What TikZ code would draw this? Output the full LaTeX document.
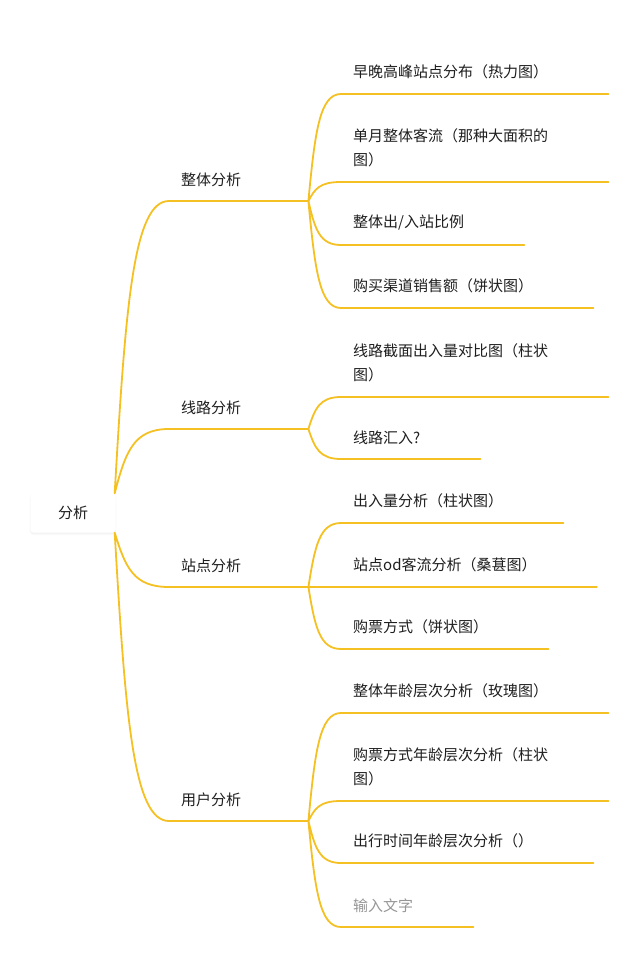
\documentclass[tikz,border=0pt]{standalone}
\usepackage{fontspec}
\setmainfont{Noto Sans CJK SC}
\usepackage{tikz}
\usetikzlibrary{calc}
\usetikzlibrary{shadows}
\definecolor{gold}{RGB}{244,192,34}
\definecolor{ink}{RGB}{30,30,30}
\definecolor{hint}{RGB}{150,150,150}

\begin{document}
\begin{tikzpicture}[x=1pt,y=1pt,
    rootbox/.style={fill=white,rounded corners=3pt,minimum width=85pt,minimum height=39pt,text=ink,
      font=\fontsize{15}{24}\selectfont,
      drop shadow={opacity=0.05,shadow xshift=0pt,shadow yshift=-2.5pt},
      drop shadow={opacity=0.04,shadow xshift=0pt,shadow yshift=-1pt,shadow scale=1.02}},
    topic/.style={anchor=south west,inner xsep=12pt,inner ysep=14.5pt,align=left,text=ink,
      font=\fontsize{15}{24}\selectfont},
    line/.style={draw=gold,line width=1.8pt,line cap=round},
    branch/.style={to path={let \p1=(\tikztostart), \p2=(\tikztotarget) in
      .. controls ({\x1+0.2*(\x2-\x1)},{\y1+0.65*(\y2-\y1)}) and ({\x1+0.35*(\x2-\x1)},\y2) .. (\tikztotarget)}}]
    \useasboundingbox (0,0) rectangle (643,-960);

    \node[rootbox] (r) at (73,-513) {\raisebox{2pt}{分析}};
    \node[topic] (a) at (169,-201) {整体分析};
    \node[topic] (b) at (169,-429) {线路分析};
    \node[topic] (c) at (169,-587) {站点分析};
    \node[topic] (d) at (169,-821) {用户分析};

    \node[topic] (a1) at (341,-94) {早晚高峰站点分布（热力图）};
    \node[topic] (a2) at (341,-182) {单月整体客流（那种大面积的\\图）};
    \node[topic] (a3) at (341,-245) {整体出/入站比例};
    \node[topic] (a4) at (341,-308) {购买渠道销售额（饼状图）};
    \node[topic] (b1) at (341,-397) {线路截面出入量对比图（柱状\\图）};
    \node[topic] (b2) at (341,-459) {线路汇入?};
    \node[topic] (c1) at (341,-523) {出入量分析（柱状图）};
    \node[topic] (c2) at (341,-587) {站点od客流分析（桑葚图）};
    \node[topic] (c3) at (341,-649) {购票方式（饼状图）};
    \node[topic] (d1) at (341,-713) {整体年龄层次分析（玫瑰图）};
    \node[topic] (d2) at (341,-801) {购票方式年龄层次分析（柱状\\图）};
    \node[topic] (d3) at (341,-863) {出行时间年龄层次分析（）};
    \node[topic,text=hint] (d4) at (341,-927) {输入文字};

    % forks
    \coordinate (rt) at ([xshift=-1pt]r.north east);
    \coordinate (rb) at ([xshift=-1pt]r.south east);
    \coordinate (af) at ([xshift=55pt]a.south east);
    \coordinate (bf) at ([xshift=55pt]b.south east);
    \coordinate (cf) at ([xshift=55pt]c.south east);
    \coordinate (df) at ([xshift=55pt]d.south east);

    \draw[line] (rt) to[branch] (a.south west) (rt) to[branch] (b.south west);
    \draw[line] (rb) to[branch] (c.south west) (rb) to[branch] (d.south west);
    \draw[line] (a.south west) -- (af);
    \draw[line] (b.south west) -- (bf);
    \draw[line] (c.south west) -- (cf);
    \draw[line] (d.south west) -- (df);

    \draw[line] (af) to[branch] (a1.south west) (af) to[branch] (a2.south west)
      (af) to[branch] (a3.south west) (af) to[branch] (a4.south west);
    \draw[line] (bf) to[branch] (b1.south west) (bf) to[branch] (b2.south west);
    \draw[line] (cf) to[branch] (c1.south west) (cf) to[branch] (c2.south west)
      (cf) to[branch] (c3.south west);
    \draw[line] (df) to[branch] (d1.south west) (df) to[branch] (d2.south west)
      (df) to[branch] (d3.south west) (df) to[branch] (d4.south west);

    % underlines
    \draw[line] (a1.south west) -- ([xshift=48pt]a1.south east);
    \draw[line] (a2.south west) -- ([xshift=48pt]a2.south east);
    \draw[line] (a3.south west) -- ([xshift=48pt]a3.south east);
    \draw[line] (a4.south west) -- ([xshift=48pt]a4.south east);
    \draw[line] (b1.south west) -- ([xshift=48pt]b1.south east);
    \draw[line] (b2.south west) -- ([xshift=48pt]b2.south east);
    \draw[line] (c1.south west) -- ([xshift=48pt]c1.south east);
    \draw[line] (c2.south west) -- ([xshift=48pt]c2.south east);
    \draw[line] (c3.south west) -- ([xshift=48pt]c3.south east);
    \draw[line] (d1.south west) -- ([xshift=48pt]d1.south east);
    \draw[line] (d2.south west) -- ([xshift=48pt]d2.south east);
    \draw[line] (d3.south west) -- ([xshift=48pt]d3.south east);
    \draw[line] (d4.south west) -- ([xshift=48pt]d4.south east);
\end{tikzpicture}
\end{document}
